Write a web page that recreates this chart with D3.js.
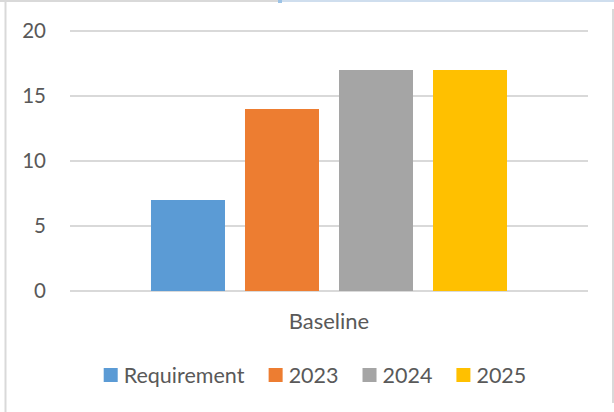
<!DOCTYPE html>
<html>
<head>
<meta charset="utf-8">
<script src="https://cdn.jsdelivr.net/npm/d3@7"></script>
<style>
  html, body { margin: 0; padding: 0; background: #fff; }
  svg { display: block; }
  text { font-family: Lato, "Open Sans", sans-serif; fill: #595959; }
</style>
</head>
<body>
<svg id="chart" width="614" height="412"></svg>
<script>
const categories = ["Baseline"];
const seriesNames = ["Requirement", "2023", "2024", "2025"];
const seriesValues = [[7], [14], [17], [17]]; // per series, per category
const yTicks = [0, 5, 10, 15, 20];
const colors = ["#5b9bd5", "#ed7d31", "#a5a5a5", "#ffc000"];

const svg = d3.select("#chart");
const W = 614, H = 412;
const plot = { left: 70, right: 588, top: 31, bottom: 291 };

// frame
svg.append("line").attr("x1", 0).attr("x2", 278).attr("y1", 1).attr("y2", 1)
  .attr("stroke", "#d9d9d9").attr("stroke-width", 2);
svg.append("line").attr("x1", 278).attr("x2", 614).attr("y1", 1).attr("y2", 1)
  .attr("stroke", "#cfdeee").attr("stroke-width", 2);
svg.append("rect").attr("x", 278).attr("y", 0).attr("width", 4).attr("height", 3).attr("fill", "#9cc3e6");
svg.append("line").attr("x1", 5.5).attr("x2", 5.5).attr("y1", 2).attr("y2", H)
  .attr("stroke", "#d9d9d9").attr("stroke-width", 2);
svg.append("line").attr("x1", 613).attr("x2", 613).attr("y1", 9).attr("y2", 403)
  .attr("stroke", "#d9d9d9").attr("stroke-width", 2);

const y = d3.scaleLinear().domain([0, 20]).range([plot.bottom, plot.top]);
const x0 = d3.scaleBand().domain(categories).range([plot.left, plot.right]).paddingInner(0).paddingOuter(0.154);
const x1 = d3.scaleBand().domain(seriesNames).range([0, x0.bandwidth()]).padding(20 / 94);

// gridlines
svg.append("g").selectAll("line").data(yTicks).join("line")
  .attr("x1", plot.left).attr("x2", plot.right)
  .attr("y1", d => y(d)).attr("y2", d => y(d))
  .attr("stroke", "#d9d9d9").attr("stroke-width", 2);

// y axis labels
const yAxis = d3.axisLeft(y).tickValues(yTicks).tickSize(0).tickPadding(0);
const gy = svg.append("g").attr("transform", `translate(46,0)`).call(yAxis);
gy.select(".domain").remove();
gy.selectAll("text").attr("font-size", 20.5).attr("fill", "#595959")
  .style("font-family", "Lato, 'Open Sans', sans-serif");

// bars
const gCat = svg.append("g").selectAll("g").data(categories).join("g")
  .attr("transform", d => `translate(${x0(d)},0)`);
seriesNames.forEach((s, si) => {
  gCat.append("rect")
    .attr("x", (d) => x1(s))
    .attr("width", x1.bandwidth())
    .attr("y", (d, ci) => y(seriesValues[si][ci]))
    .attr("height", (d, ci) => y(0) - y(seriesValues[si][ci]))
    .attr("fill", colors[si]);
});

// x axis category labels
const xAxis = d3.axisBottom(x0).tickSize(0).tickPadding(0);
const gx = svg.append("g").attr("transform", `translate(0,309)`).call(xAxis);
gx.select(".domain").remove();
gx.selectAll("text").attr("font-size", 22).attr("fill", "#595959").attr("dy", "0.9em")
  .style("font-family", "Lato, 'Open Sans', sans-serif");

// legend
const legend = svg.append("g");
const items = legend.selectAll("g").data(seriesNames).join("g");
items.append("rect").attr("width", 14).attr("height", 14).attr("y", 368)
  .attr("fill", (d, i) => colors[i]);
items.append("text").attr("x", 20).attr("y", 382.5).attr("font-size", 21.5).text(d => d);
let widths = [];
items.each(function () { widths.push(this.getBBox().width); });
const gap = 24;
const total = d3.sum(widths) + gap * (widths.length - 1);
let cx = 315 - total / 2;
items.attr("transform", (d, i) => {
  const t = `translate(${cx},0)`;
  cx += widths[i] + gap;
  return t;
});
</script>
</body>
</html>
